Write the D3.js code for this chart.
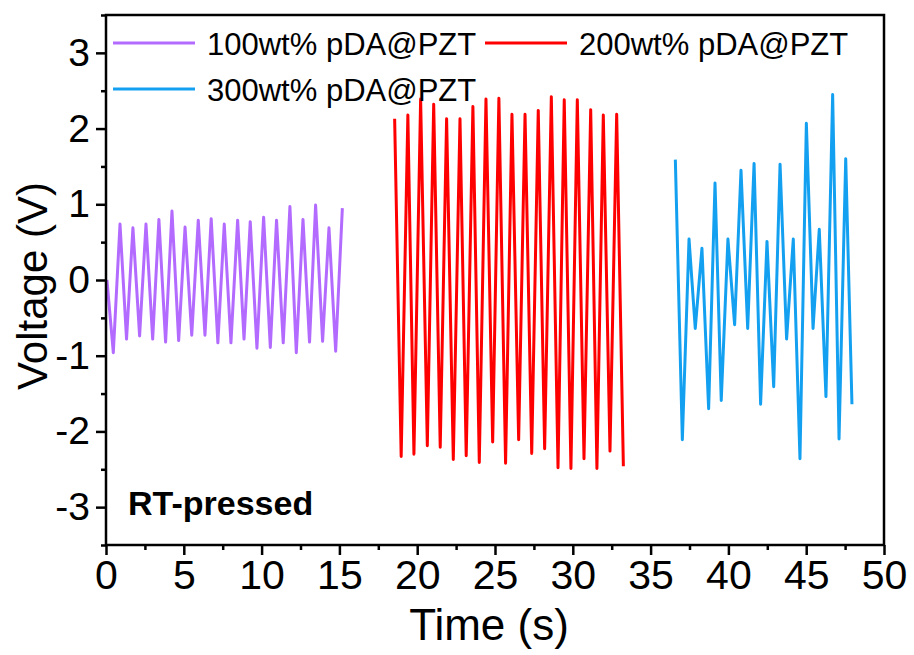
<html>
<head>
<meta charset="utf-8">
<title>voltage vs time</title>
<script src="https://d3js.org/d3.v7.min.js"></script>
<style>
  body { margin: 0; background: #fff; }
  text { font-family: "Liberation Sans", Arial, sans-serif; fill: #000; }
</style>
</head>
<body>
<svg id="chart" width="914" height="655"></svg>
<script>
// data
const seriesNames = ["100wt% pDA@PZT", "200wt% pDA@PZT", "300wt% pDA@PZT"];
const seriesColors = ["#b36bff", "#ff0000", "#14a0f0"];

const t100 = [0.06, 0.47, 0.90, 1.32, 1.73, 2.16, 2.57, 3.00, 3.40, 3.83, 4.24, 4.67, 5.08, 5.51, 5.93, 6.36, 6.76, 7.19, 7.60, 8.03, 8.46, 8.87, 9.27, 9.70, 10.13, 10.56, 10.96, 11.39, 11.82, 12.23, 12.66, 13.08, 13.47, 13.92, 14.33, 14.76, 15.19];
const v100 = [0, -0.96, 0.74, -0.78, 0.69, -0.74, 0.74, -0.78, 0.80, -0.82, 0.91, -0.80, 0.70, -0.73, 0.79, -0.73, 0.81, -0.83, 0.74, -0.83, 0.79, -0.78, 0.77, -0.90, 0.83, -0.89, 0.79, -0.83, 0.97, -0.96, 0.80, -0.82, 0.99, -0.81, 0.69, -0.94, 0.95];

const t200 = [18.55, 18.97, 19.40, 19.79, 20.22, 20.65, 21.06, 21.48, 21.89, 22.32, 22.75, 23.15, 23.58, 23.99, 24.42, 24.85, 25.25, 25.68, 26.09, 26.52, 26.93, 27.36, 27.78, 28.19, 28.62, 29.05, 29.45, 29.88, 30.29, 30.72, 31.15, 31.55, 31.96, 32.39, 32.82, 33.25];
const v200 = [2.13, -2.33, 2.18, -2.30, 2.39, -2.19, 2.32, -2.21, 2.13, -2.37, 2.13, -2.32, 2.29, -2.41, 2.39, -2.14, 2.40, -2.42, 2.19, -2.11, 2.19, -2.29, 2.24, -2.23, 2.42, -2.48, 2.38, -2.49, 2.38, -2.36, 2.25, -2.49, 2.18, -2.26, 2.19, -2.46];

const t300 = [36.59, 37.04, 37.47, 37.87, 38.30, 38.73, 39.14, 39.54, 39.97, 40.40, 40.81, 41.24, 41.65, 42.07, 42.48, 42.91, 43.32, 43.74, 44.17, 44.60, 45.01, 45.44, 45.84, 46.27, 46.70, 47.11, 47.54, 47.94];
const v300 = [1.59, -2.11, 0.54, -0.64, 0.42, -1.70, 1.28, -1.59, 0.54, -0.59, 1.45, -0.64, 1.54, -1.64, 0.51, -1.41, 1.53, -0.78, 0.54, -2.36, 2.07, -0.64, 0.67, -1.54, 2.45, -2.10, 1.60, -1.64];

const xTicks = [0, 5, 10, 15, 20, 25, 30, 35, 40, 45, 50];
const yTicks = [-3, -2, -1, 0, 1, 2, 3];

const svg = d3.select("#chart");
const margin = {left: 106, right: 30, top: 15, bottom: 110};
const W = 914, H = 655;

const x = d3.scaleLinear().domain([0, 50]).range([margin.left, W - margin.right]);
const y = d3.scaleLinear().domain([-3.5, 3.5]).range([H - margin.bottom, margin.top]);

const series = [
  {name: seriesNames[0], color: seriesColors[0], t: t100, v: v100},
  {name: seriesNames[1], color: seriesColors[1], t: t200, v: v200},
  {name: seriesNames[2], color: seriesColors[2], t: t300, v: v300}
];

const line = d3.line().x(d => x(d[0])).y(d => y(d[1]));

svg.append("g").selectAll("path").data(series).join("path")
  .attr("fill", "none")
  .attr("stroke", d => d.color)
  .attr("stroke-width", 3)
  .attr("stroke-linejoin", "round")
  .attr("d", d => line(d.t.map((t, i) => [t, d.v[i]])));

// axes (plain hyphen for minus, like the original)
const fmt = d => String(d);
const xAxis = d3.axisBottom(x).tickValues(xTicks).tickSize(10).tickPadding(4).tickFormat(fmt);
const yAxis = d3.axisLeft(y).tickValues(yTicks).tickSize(10).tickPadding(6).tickFormat(fmt);

const gx = svg.append("g").attr("transform", "translate(0," + y(-3.5) + ")").call(xAxis);
gx.selectAll("text").attr("font-size", 41).attr("dy", "0.72em");
svg.append("g").attr("transform", "translate(0," + y(-3.5) + ")")
  .call(d3.axisBottom(x).tickValues(d3.range(2.5, 50, 5)).tickSize(5).tickFormat(""));

const gy = svg.append("g").attr("transform", "translate(" + x(0) + ",0)").call(yAxis);
gy.selectAll("text").attr("font-size", 39);
svg.append("g").attr("transform", "translate(" + x(0) + ",0)")
  .call(d3.axisLeft(y).tickValues(d3.range(-3.5, 3.6, 1)).tickSize(5).tickFormat(""));

svg.selectAll(".domain").remove();
svg.selectAll(".tick line").attr("stroke", "#000").attr("stroke-width", 2.5);

svg.append("rect")
  .attr("x", x(0)).attr("y", y(3.5))
  .attr("width", x(50) - x(0)).attr("height", y(-3.5) - y(3.5))
  .attr("fill", "none").attr("stroke", "#000").attr("stroke-width", 2.5);

// titles
svg.append("text")
  .attr("x", (x(0) + x(50)) / 2 - 6).attr("y", 640)
  .attr("text-anchor", "middle").attr("font-size", 44)
  .text("Time (s)");

svg.append("text")
  .attr("transform", "translate(47," + (y(0) + 6) + ") rotate(-90)")
  .attr("text-anchor", "middle").attr("font-size", 42)
  .text("Voltage (V)");

svg.append("text")
  .attr("x", 128).attr("y", 515)
  .attr("font-size", 34).attr("font-weight", "bold")
  .text("RT-pressed");

// legend
const legendPos = [[113, 43], [485, 43], [113, 89]];
const lg = svg.append("g").selectAll("g").data(series).join("g")
  .attr("transform", (d, i) => "translate(" + legendPos[i][0] + "," + legendPos[i][1] + ")");
lg.append("line").attr("x1", 0).attr("x2", 82).attr("y1", 0).attr("y2", 0)
  .attr("stroke", d => d.color).attr("stroke-width", 3);
lg.append("text").attr("x", 94).attr("y", 12).attr("font-size", 31)
  .text(d => d.name);
</script>
</body>
</html>
